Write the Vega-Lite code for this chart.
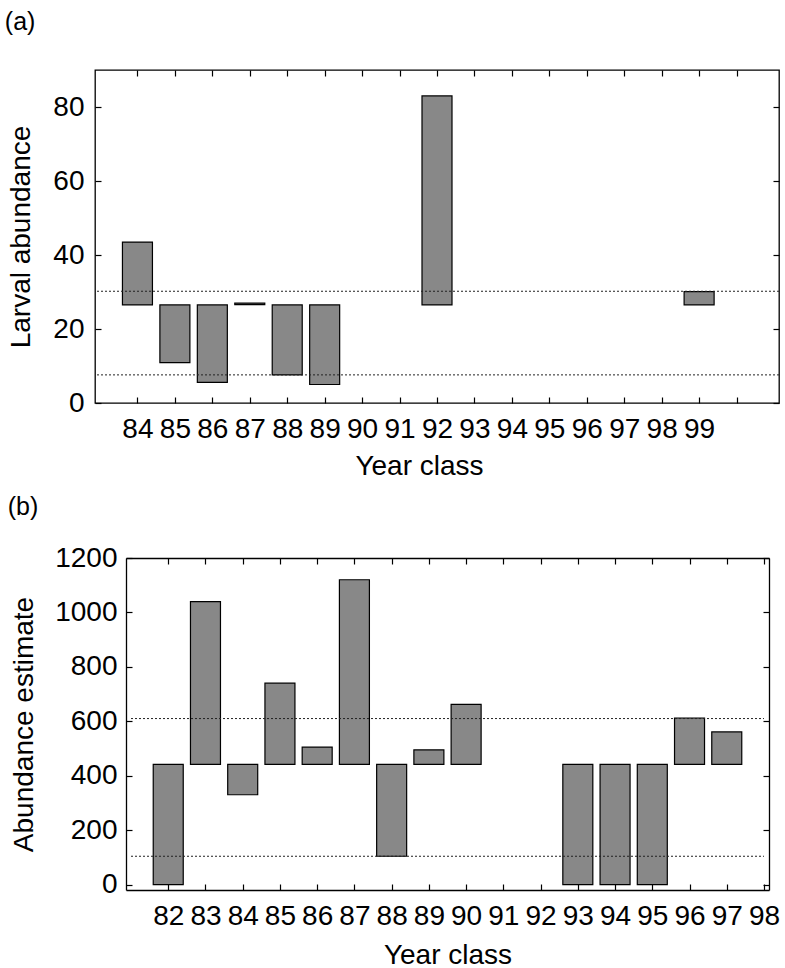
{
  "$schema": "https://vega.github.io/schema/vega-lite/v6.json",
  "padding": {"left": 4, "top": 9, "right": 0, "bottom": 0},
  "background": "white",
  "config": {
    "font": "Liberation Sans",
    "view": {"stroke": "black", "strokeWidth": 1.3},
    "axis": {
      "grid": false,
      "domain": false,
      "domainColor": "black",
      "domainWidth": 1.3,
      "labelFontSize": 28,
      "titleFontSize": 28,
      "titleFontWeight": "normal",
      "labelColor": "black",
      "titleColor": "black",
      "tickColor": "black",
      "tickWidth": 1.2,
      "tickSize": -6,
      "labelFlush": false,
      "labelOverlap": false
    }
  },
  "spacing": 14,
  "vconcat": [
    {
      "width": 684,
      "height": 333,
      "title": {"text": "(a)", "anchor": "start", "frame": "bounds", "fontSize": 25, "fontWeight": "normal", "offset": 34, "dx": -3},
      "data": {"values": [
        {"year": 84, "low": 26.5, "high": 43.5},
        {"year": 85, "low": 10.9, "high": 26.5},
        {"year": 86, "low": 5.6, "high": 26.5},
        {"year": 87, "low": 26.6, "high": 27.0},
        {"year": 88, "low": 7.6, "high": 26.5},
        {"year": 89, "low": 5.0, "high": 26.5},
        {"year": 92, "low": 26.5, "high": 83.0},
        {"year": 99, "low": 26.5, "high": 30.1}
      ]},
      "layer": [
        {
          "mark": {"type": "bar", "width": 30, "fill": "#888888", "stroke": "black", "strokeWidth": 1.2},
          "encoding": {
            "x": {"field": "year", "type": "quantitative", "scale": {"domain": [83, 101], "nice": false, "zero": false},
                  "axis": {"orient": "bottom", "values": [84,85,86,87,88,89,90,91,92,93,94,95,96,97,98,99,100], "labelExpr": "datum.value > 99 ? '' : datum.label", "labelPadding": 18, "title": "Year class", "titlePadding": 9, "titleX": 324}},
            "y": {"field": "low", "type": "quantitative", "scale": {"domain": [0, 90], "nice": false, "zero": false},
                  "axis": {"orient": "left", "values": [0,20,40,60,80], "labelPadding": 17, "title": "Larval abundance", "titlePadding": 17}},
            "y2": {"field": "high"}
          }
        },
        {
          "data": {"values": [{"ref": 30.2}, {"ref": 7.6}]},
          "mark": {"type": "rule", "strokeDash": [2, 2], "color": "#222", "strokeWidth": 1},
          "encoding": {
            "y": {"field": "ref", "type": "quantitative", "scale": {"domain": [0, 90], "nice": false, "zero": false},
                  "axis": {"orient": "right", "values": [0,20,40,60,80], "labels": false, "title": null}}
          }
        },
        {
          "mark": {"type": "rule", "opacity": 0},
          "encoding": {
            "x": {"field": "year", "type": "quantitative", "scale": {"domain": [83, 101], "nice": false, "zero": false},
                  "axis": {"orient": "top", "values": [84,85,86,87,88,89,90,91,92,93,94,95,96,97,98,99,100], "labels": false, "title": null}}
          }
        }
      ],
      "resolve": {"axis": {"x": "independent", "y": "independent"}}
    },
    {
      "width": 674,
      "height": 332,
      "view": {"stroke": null},
      "title": {"text": "(b)", "anchor": "start", "frame": "bounds", "fontSize": 25, "fontWeight": "normal", "offset": 24, "dx": -3},
      "data": {"values": [
        {"year": 82, "low": 0, "high": 442},
        {"year": 83, "low": 442, "high": 1040},
        {"year": 84, "low": 330, "high": 442},
        {"year": 85, "low": 442, "high": 740},
        {"year": 86, "low": 442, "high": 505},
        {"year": 87, "low": 442, "high": 1120},
        {"year": 88, "low": 104, "high": 442},
        {"year": 89, "low": 442, "high": 495},
        {"year": 90, "low": 442, "high": 662},
        {"year": 93, "low": 0, "high": 442},
        {"year": 94, "low": 0, "high": 442},
        {"year": 95, "low": 0, "high": 442},
        {"year": 96, "low": 442, "high": 612},
        {"year": 97, "low": 442, "high": 561}
      ]},
      "layer": [
        {
          "mark": {"type": "bar", "width": 30, "fill": "#888888", "stroke": "black", "strokeWidth": 1.2},
          "encoding": {
            "x": {"field": "year", "type": "quantitative", "scale": {"domain": [81, 98], "range": [31, 674], "nice": false, "zero": false},
                  "axis": {"orient": "bottom", "domain": true, "values": [82,83,84,85,86,87,88,89,90,91,92,93,94,95,96,97,98], "labelPadding": 18, "title": "Year class", "titlePadding": 11}},
            "y": {"field": "low", "type": "quantitative", "scale": {"domain": [-20, 1200], "nice": false, "zero": false},
                  "axis": {"orient": "left", "offset": -31, "domain": true, "values": [0,200,400,600,800,1000,1200], "format": "d", "labelPadding": 15, "title": "Abundance estimate", "titlePadding": 16}},
            "y2": {"field": "high"}
          }
        },
        {
          "data": {"values": [{"ref": 610}, {"ref": 104}]},
          "mark": {"type": "rule", "strokeDash": [2, 2], "color": "#222", "strokeWidth": 1},
          "encoding": {
            "x": {"datum": 81, "type": "quantitative", "scale": {"domain": [81, 98], "range": [31, 674], "nice": false, "zero": false}, "axis": null},
            "x2": {"datum": 98},
            "y": {"field": "ref", "type": "quantitative", "scale": {"domain": [-20, 1200], "nice": false, "zero": false},
                  "axis": {"orient": "right", "domain": true, "values": [0,200,400,600,800,1000,1200], "labels": false, "title": null}}
          }
        },
        {
          "mark": {"type": "rule", "opacity": 0},
          "encoding": {
            "x": {"field": "year", "type": "quantitative", "scale": {"domain": [81, 98], "range": [31, 674], "nice": false, "zero": false},
                  "axis": {"orient": "top", "domain": true, "values": [82,83,84,85,86,87,88,89,90,91,92,93,94,95,96,97,98], "labels": false, "title": null}}
          }
        }
      ],
      "resolve": {"axis": {"x": "independent", "y": "independent"}}
    }
  ]
}
